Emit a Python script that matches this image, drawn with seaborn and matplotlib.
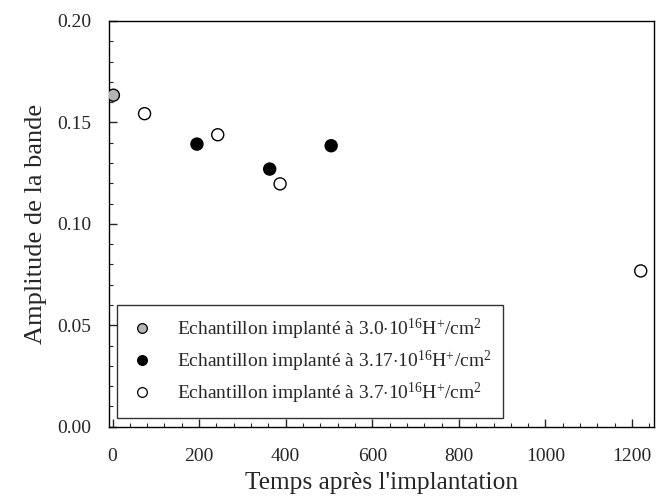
import numpy as np
import pandas as pd
import matplotlib
matplotlib.use("Agg")
import matplotlib.pyplot as plt
from matplotlib.ticker import MultipleLocator
import seaborn as sns

# =========================================
# DATA
# =========================================

grp_30 = r"Echantillon implanté à 3.0$\cdot$10$^{16}$H$^{+}$/cm$^{2}$"
grp_317 = r"Echantillon implanté à 3.17$\cdot$10$^{16}$H$^{+}$/cm$^{2}$"
grp_37 = r"Echantillon implanté à 3.7$\cdot$10$^{16}$H$^{+}$/cm$^{2}$"

temps_30 = [2]
ampl_30 = [0.1634]

temps_317 = [195, 363, 505]
ampl_317 = [0.1393, 0.1270, 0.1385]

temps_37 = [74, 243, 387, 1220]
ampl_37 = [0.1543, 0.1439, 0.1197, 0.0768]

groups = [grp_30, grp_317, grp_37]
colors = ["#b4b4b4", "black", "white"]

df = pd.DataFrame({
    "temps": temps_30 + temps_317 + temps_37,
    "amplitude": ampl_30 + ampl_317 + ampl_37,
    "echantillon": [grp_30] * len(temps_30) + [grp_317] * len(temps_317) + [grp_37] * len(temps_37),
})

# =========================================
# SETTINGS
# =========================================

sns.set_style("ticks")
plt.rcParams["font.family"] = ["Liberation Serif", "DejaVu Serif"]
plt.rcParams["mathtext.fontset"] = "custom"
plt.rcParams["mathtext.rm"] = "Liberation Serif"
plt.rcParams["mathtext.it"] = "Liberation Serif:italic"
plt.rcParams["mathtext.bf"] = "Liberation Serif:bold"

fig = plt.figure(figsize=(6.57, 4.98), dpi=100)
ax = fig.add_axes([0.166, 0.143, 0.829, 0.815])

sns.scatterplot(
    data=df, x="temps", y="amplitude", hue="echantillon",
    hue_order=groups, palette=dict(zip(groups, colors)),
    edgecolor="black", linewidth=1.0, s=75, ax=ax, legend=True, zorder=3,
)

leg = ax.get_legend()
handles = leg.legend_handles
labels = [t.get_text() for t in leg.get_texts()]
leg.remove()
for h in handles:
    h.set_markeredgecolor("black")
    h.set_markeredgewidth(0.9)
    h.set_markersize(7)

legend = ax.legend(
    handles, labels, loc="lower left", bbox_to_anchor=(0.014, 0.022),
    borderaxespad=0, frameon=True, fancybox=False, fontsize=14,
    labelspacing=0.36, handletextpad=1.1, borderpad=0.6, handlelength=1.4,
)
legend.get_frame().set_edgecolor("black")
legend.get_frame().set_linewidth(1.0)

ax.set_xlim(-8, 1250)
ax.set_ylim(0, 0.20)
ax.xaxis.set_major_locator(MultipleLocator(200))
ax.xaxis.set_minor_locator(MultipleLocator(40))
ax.yaxis.set_major_locator(MultipleLocator(0.05))
ax.yaxis.set_minor_locator(MultipleLocator(0.01))
ax.yaxis.set_major_formatter(matplotlib.ticker.FormatStrFormatter("%.2f"))

ax.tick_params(which="major", direction="in", length=6, width=1, labelsize=14)
ax.tick_params(which="minor", direction="in", length=3, width=0.8)
ax.tick_params(axis="x", which="major", pad=15.5)
ax.tick_params(axis="y", which="major", pad=13)
ax.tick_params(top=False, right=False, which="both")

for sp in ax.spines.values():
    sp.set_visible(True)
    sp.set_color("black")
    sp.set_linewidth(1.0)

ax.set_xlabel("Temps après l'implantation", fontsize=18.3, labelpad=5)
ax.set_ylabel("Amplitude de la bande", fontsize=19, labelpad=7)

fig.savefig("out.png", dpi=100)
